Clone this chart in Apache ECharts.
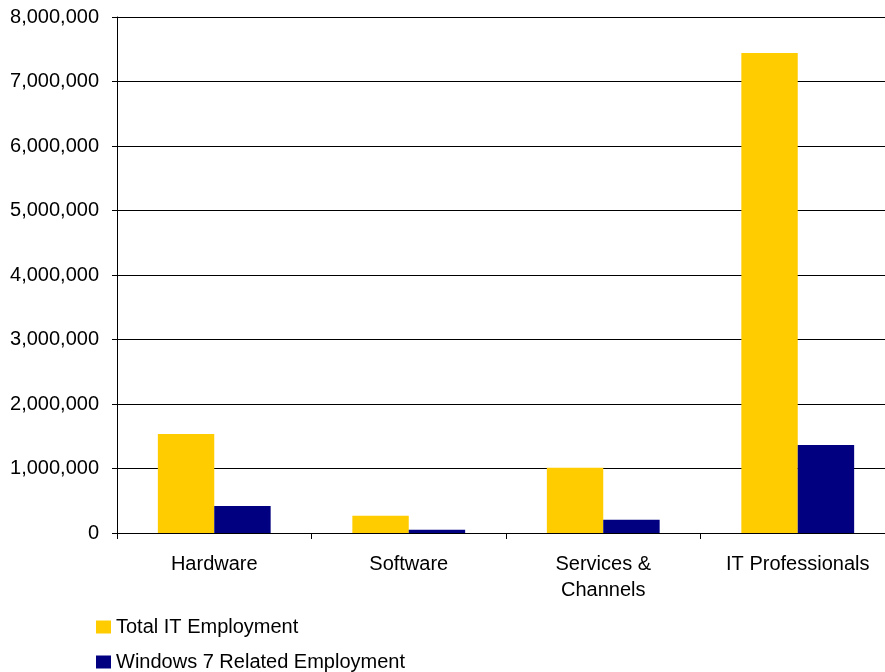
<!DOCTYPE html>
<html>
<head>
<meta charset="utf-8">
<script src="https://cdn.jsdelivr.net/npm/echarts@6/dist/echarts.min.js"></script>
<style>
  html, body { margin: 0; padding: 0; background: #fff; overflow: hidden; }
  /* the plot runs slightly past the right edge of the window */
  #chart { width: 895px; height: 672px; }
</style>
</head>
<body>
<div id="chart"></div>
<script>
// Employment by IT segment
const categories = ['Hardware', 'Software', 'Services &\nChannels', 'IT Professionals'];
const totalIT = [1535000, 267000, 1010000, 7440000];
const win7Related = [420000, 50000, 206000, 1365000];
const seriesNames = ['Total IT Employment', 'Windows 7 Related Employment'];
const yTicks = { min: 0, max: 8000000, interval: 1000000 };

const FONT = '"Liberation Sans", Arial, sans-serif';

const chart = echarts.init(document.getElementById('chart'), null, { renderer: 'canvas' });

// one legend per series so the entries stack vertically below the plot
const legendBase = {
  left: 96,
  padding: 0,
  itemWidth: 15,
  itemHeight: 13,
  itemGap: 5,
  icon: 'rect',
  textStyle: { fontFamily: FONT, fontSize: 20, color: '#000' }
};

chart.setOption({
  animation: false,
  backgroundColor: '#ffffff',
  textStyle: { fontFamily: FONT, color: '#000' },
  grid: { left: 117, right: 0, top: 17, bottom: 139, containLabel: false },
  legend: [
    Object.assign({}, legendBase, { top: 617, data: [seriesNames[0]] }),
    Object.assign({}, legendBase, { top: 652, data: [seriesNames[1]] })
  ],
  xAxis: {
    type: 'category',
    data: categories,
    axisLine: { lineStyle: { color: '#000', width: 1 } },
    axisTick: { show: true, alignWithLabel: false, length: 6, lineStyle: { color: '#000' } },
    axisLabel: { fontFamily: FONT, fontSize: 20, color: '#000', margin: 18, lineHeight: 26, interval: 0 },
    splitLine: { show: false }
  },
  yAxis: {
    type: 'value',
    min: yTicks.min,
    max: yTicks.max,
    interval: yTicks.interval,
    axisLine: { show: true, lineStyle: { color: '#000', width: 1 } },
    axisTick: { show: true, length: 5, lineStyle: { color: '#000' } },
    axisLabel: {
      fontFamily: FONT, fontSize: 20, color: '#000', margin: 18,
      formatter: v => v.toLocaleString('en-US')
    },
    splitLine: { show: true, lineStyle: { color: '#000', width: 1 } }
  },
  series: [
    {
      name: seriesNames[0],
      type: 'bar',
      data: totalIT,
      barWidth: '29%',
      barGap: '0%',
      itemStyle: { color: '#FFCC00' }
    },
    {
      name: seriesNames[1],
      type: 'bar',
      data: win7Related,
      barWidth: '29%',
      barGap: '0%',
      itemStyle: { color: '#000080' }
    }
  ]
});
</script>
</body>
</html>
